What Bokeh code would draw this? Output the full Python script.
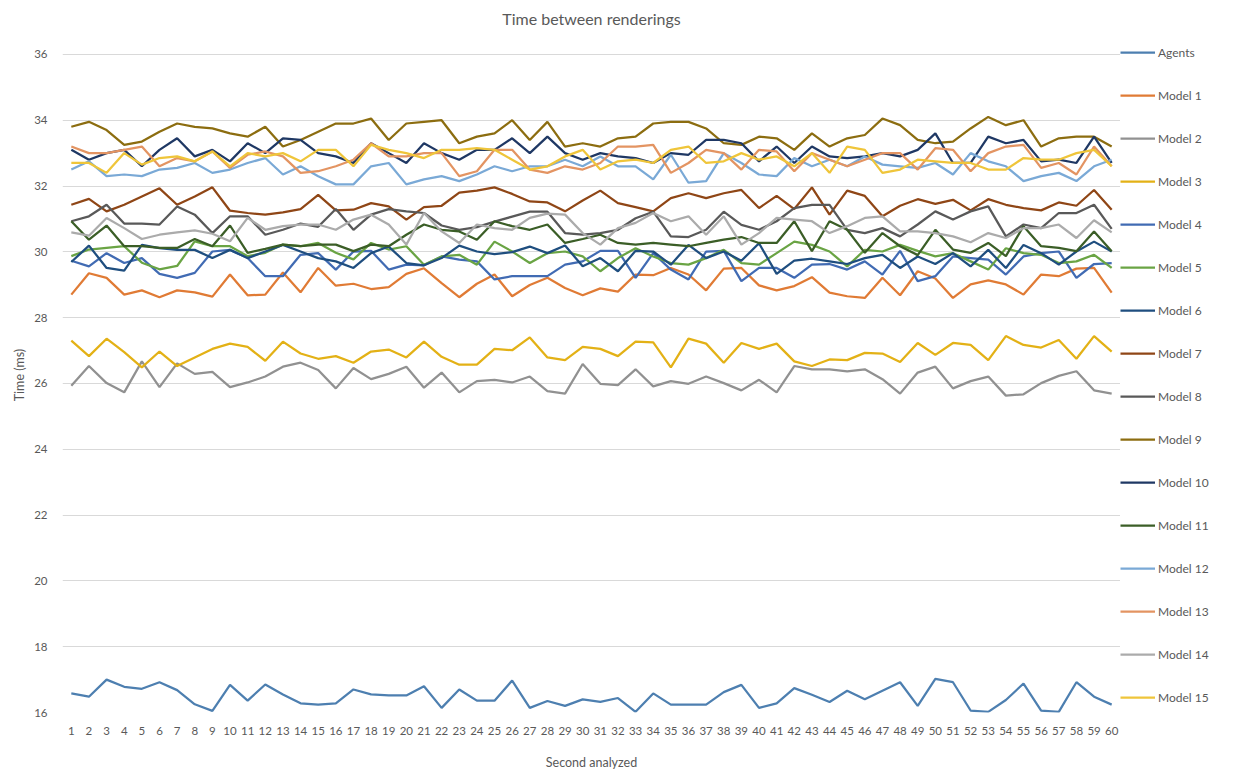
from bokeh.plotting import figure
from bokeh.layouts import row
from bokeh.models import Range1d, FixedTicker, Legend, LegendItem, ColumnDataSource
from bokeh.embed import file_html
from bokeh.resources import INLINE

seconds = list(range(1, 61))
y_ticks = [16, 18, 20, 22, 24, 26, 28, 30, 32, 34, 36]

agents = [16.58,16.48,17.0,16.78,16.72,16.92,16.68,16.25,16.05,16.84,16.36,16.85,16.55,16.28,16.24,16.28,16.7,16.55,16.52,16.52,16.8,16.14,16.7,16.36,16.36,16.97,16.14,16.35,16.2,16.4,
          16.32,16.44,16.02,16.58,16.24,16.24,16.24,16.62,16.84,16.14,16.28,16.74,16.54,16.32,16.66,16.4,16.66,16.92,16.2,17.02,16.92,16.06,16.02,16.38,16.88,16.06,16.02,16.92,16.48,16.24]
model1 = [28.70,29.35,29.21,28.70,28.83,28.62,28.83,28.77,28.64,29.31,28.68,28.70,29.37,28.77,29.51,28.97,29.03,28.87,28.93,29.33,
          29.50,29.05,28.62,29.03,29.31,28.65,28.99,29.21,28.90,28.68,28.89,28.79,29.31,29.29,29.51,29.31,28.83,29.49,29.51,28.98,
          28.83,28.96,29.23,28.76,28.65,28.60,29.21,28.68,29.41,29.19,28.60,29.01,29.13,29.01,28.70,29.31,29.26,29.49,29.51,28.76]
model2 = [25.93,26.53,26.01,25.73,26.67,25.89,26.61,26.29,26.35,25.89,26.03,26.21,26.51,26.63,26.41,25.85,26.47,26.13,26.29,26.51,25.87,26.33,25.73,26.07,26.11,26.03,26.21,25.77,25.69,26.59,
          25.99,25.95,26.43,25.91,26.07,25.99,26.21,26.01,25.79,26.11,25.73,26.53,26.43,26.43,26.37,26.43,26.13,25.69,26.33,26.51,25.85,26.07,26.21,25.63,25.67,26.01,26.23,26.37,25.79,25.69]
model3 = [27.30,26.83,27.36,26.95,26.49,26.97,26.53,26.79,27.05,27.21,27.11,26.69,27.27,26.91,26.75,26.83,26.63,26.97,27.03,26.79,27.27,26.81,26.57,26.57,27.05,27.01,27.40,26.79,26.71,27.11,
          27.05,26.83,27.27,27.25,26.49,27.36,27.21,26.63,27.23,27.05,27.21,26.67,26.53,26.73,26.71,26.93,26.91,26.65,27.23,26.87,27.23,27.17,26.71,27.44,27.17,27.09,27.32,26.75,27.44,26.97]
model4 = [29.73,29.56,29.96,29.66,29.81,29.33,29.21,29.36,30.01,30.06,29.81,29.26,29.26,29.91,29.96,29.46,30.01,30.03,29.46,29.61,
          29.59,29.86,29.76,29.71,29.16,29.26,29.26,29.26,29.61,29.71,30.03,30.03,29.21,29.96,29.46,29.16,30.01,30.03,29.11,29.51,
          29.51,29.21,29.61,29.63,29.46,29.71,29.31,30.03,29.11,29.26,29.86,29.81,29.76,29.31,29.86,29.96,30.01,29.21,29.63,29.66]
model5 = [29.87,30.07,30.12,30.17,29.67,29.47,29.57,30.32,30.17,30.17,29.87,29.97,30.22,30.17,30.27,29.97,29.77,30.27,30.07,30.17,
          29.61,29.86,29.91,29.61,30.31,30.01,29.66,29.96,30.01,29.86,29.41,29.81,30.11,29.86,29.66,29.61,29.81,30.06,29.66,29.61,
          29.96,30.31,30.21,30.01,29.56,30.06,30.01,30.21,30.03,29.86,29.96,29.71,29.46,30.11,29.96,29.91,29.66,29.71,29.91,29.51]
model6 = [29.69,30.19,29.51,29.43,30.21,30.11,30.06,30.06,29.81,30.06,29.81,30.01,30.21,30.01,29.81,29.71,29.51,29.96,30.16,29.66,
          29.59,29.81,30.19,30.01,29.93,29.99,30.16,29.96,30.19,29.56,29.81,29.41,30.03,30.01,29.61,30.21,29.81,30.01,29.73,30.26,
          29.33,29.73,29.79,29.71,29.63,29.81,29.91,29.51,29.86,29.63,29.96,29.56,30.06,29.51,30.21,29.96,29.61,30.01,30.31,30.01]
model7 = [31.43,31.61,31.23,31.43,31.68,31.93,31.43,31.68,31.96,31.25,31.18,31.13,31.20,31.30,31.73,31.26,31.28,31.48,31.38,30.98,
          31.36,31.40,31.80,31.86,31.96,31.76,31.53,31.50,31.23,31.56,31.86,31.48,31.36,31.23,31.63,31.78,31.63,31.78,31.88,31.33,
          31.70,31.30,31.96,31.13,31.86,31.70,31.08,31.40,31.60,31.46,31.58,31.26,31.60,31.43,31.33,31.26,31.50,31.40,31.88,31.28]
model8 = [30.93,31.08,31.43,30.86,30.86,30.83,31.38,31.13,30.57,31.08,31.08,30.52,30.67,30.86,30.76,31.30,30.67,31.13,31.30,31.23,
          31.18,30.80,30.67,30.75,30.92,31.07,31.22,31.22,30.57,30.52,30.57,30.67,31.02,31.22,30.47,30.45,30.67,31.22,30.82,30.67,
          30.93,31.33,31.43,31.43,30.67,30.57,30.72,30.47,30.83,31.23,30.98,31.23,31.38,30.47,30.83,30.72,31.18,31.18,31.43,30.70]
model9 = [33.8,33.95,33.7,33.25,33.35,33.65,33.9,33.8,33.75,33.6,33.5,33.8,33.2,33.4,33.65,33.9,33.9,34.05,33.4,33.9,
          33.95,34.0,33.3,33.5,33.6,34.0,33.4,33.95,33.2,33.3,33.2,33.45,33.5,33.9,33.95,33.95,33.75,33.3,33.25,33.5,
          33.45,33.1,33.6,33.2,33.45,33.55,34.05,33.85,33.4,33.3,33.35,33.75,34.1,33.85,34.0,33.2,33.45,33.5,33.5,33.2]
model10 = [33.1,32.8,33.0,33.1,32.6,33.1,33.45,32.9,33.1,32.75,33.3,33.0,33.45,33.4,33.0,32.9,32.7,33.3,33.0,32.7,
           33.3,33.0,32.8,33.1,33.1,33.45,33.0,33.5,33.0,32.8,33.0,32.9,32.85,32.7,33.0,32.95,33.4,33.4,33.3,32.75,
           33.2,32.7,33.2,32.9,32.85,32.9,33.0,32.9,33.1,33.6,32.7,32.7,33.5,33.3,33.4,32.75,32.8,32.7,33.5,32.7]
model11 = [30.93,30.37,30.80,30.17,30.17,30.12,30.12,30.39,30.17,30.80,29.97,30.09,30.22,30.17,30.22,30.22,30.02,30.22,30.17,30.52,
           30.83,30.67,30.62,30.37,30.93,30.78,30.67,30.83,30.27,30.39,30.52,30.27,30.22,30.27,30.22,30.17,30.27,30.37,30.45,30.27,
           30.27,30.93,30.02,30.93,30.67,29.97,30.57,30.17,29.90,30.67,30.07,29.97,30.27,29.87,30.78,30.17,30.12,30.02,30.62,30.02]
model12 = [32.5,32.75,32.3,32.35,32.3,32.5,32.55,32.7,32.4,32.5,32.7,32.85,32.35,32.6,32.3,32.05,32.05,32.6,32.7,32.05,
           32.2,32.3,32.15,32.35,32.6,32.45,32.6,32.6,32.8,32.6,32.9,32.6,32.6,32.2,32.95,32.1,32.15,33.0,32.7,32.35,
           32.3,32.85,32.6,32.8,32.6,32.9,32.65,32.6,32.55,32.7,32.35,33.0,32.75,32.6,32.15,32.3,32.4,32.15,32.6,32.8]
model13 = [33.2,33.0,33.0,33.1,33.2,32.6,32.85,32.75,33.05,32.55,32.95,33.05,32.9,32.4,32.45,32.6,32.8,33.3,32.9,32.9,
           33.0,33.0,32.3,32.45,33.1,33.1,32.5,32.4,32.6,32.5,32.7,33.2,33.2,33.25,32.4,32.7,33.1,33.0,32.5,33.1,
           33.05,32.45,33.0,32.8,32.6,32.8,33.0,33.0,32.5,33.15,33.1,32.45,33.0,33.2,33.25,32.55,32.7,32.35,33.2,32.6]
model14 = [30.59,30.49,31.03,30.72,30.39,30.52,30.59,30.65,30.55,30.32,31.03,30.67,30.78,30.83,30.83,30.67,30.98,31.13,30.83,30.22,
           31.18,30.62,30.27,30.83,30.72,30.67,31.03,31.16,31.13,30.57,30.22,30.72,30.88,31.18,30.93,31.08,30.52,31.08,30.22,30.57,
           31.03,30.98,30.93,30.57,30.78,31.03,31.08,30.62,30.62,30.57,30.47,30.29,30.57,30.42,30.72,30.72,30.83,30.42,30.96,30.59]
model15 = [32.7,32.7,32.4,33.0,32.65,32.85,32.9,32.75,33.05,32.6,33.0,32.9,33.0,32.75,33.1,33.1,32.6,33.25,33.1,33.0,
           32.85,33.1,33.1,33.15,33.1,32.8,32.5,32.6,32.9,33.1,32.5,32.75,32.8,32.7,33.1,33.2,32.7,32.75,33.0,32.8,
           32.9,32.6,33.0,32.4,33.2,33.1,32.4,32.5,32.8,32.75,32.7,32.7,32.5,32.5,32.85,32.8,32.8,33.0,33.1,32.6]

series_names = ["Agents"] + ["Model %d" % i for i in range(1, 16)]
series_values = [agents, model1, model2, model3, model4, model5, model6, model7,
                 model8, model9, model10, model11, model12, model13, model14, model15]
series_colors = ["#4D7FB0", "#E07B35", "#919191", "#E3B116", "#416BB3", "#6AA444",
                 "#1F4E7F", "#8F4616", "#595959", "#8C6D10", "#1F3864", "#3B5E27",
                 "#7AA9D6", "#E39462", "#ABABAB", "#EFC53A"]

for v in series_values:
    assert len(v) == 60, len(v)

FONT = "Lato"
TEXT = "#595959"
W_MAIN, W_LEG, H = 1120, 119, 772
BL, BT, BB = 62, 36, 57
FH = H - BT - BB
TOP_PAD_PX = 17
top_pad_units = 20.0 * TOP_PAD_PX / (FH - TOP_PAD_PX)

data = {"x": seconds}
for n, v in zip(series_names, series_values):
    data[n] = v
src = ColumnDataSource(data)

p = figure(width=W_MAIN, height=H, output_backend="svg", toolbar_location=None,
           x_range=Range1d(0.5, 60.5),
           y_range=Range1d(16, 36 + top_pad_units),
           min_border_left=BL, min_border_right=0, min_border_top=BT, min_border_bottom=BB,
           title="Time between renderings")

p.title.align = "center"
p.title.vertical_align = "top"
p.title.text_font = FONT
p.title.text_font_size = "16px"
p.title.text_line_height = 1.0
p.title.text_font_style = "normal"
p.title.text_color = TEXT
p.title.standoff = 16

p.outline_line_color = None
p.background_fill_color = "white"
p.border_fill_color = "white"

p.xgrid.grid_line_color = None
p.ygrid.grid_line_color = "#D9D9D9"
p.ygrid.grid_line_width = 1

p.yaxis.ticker = FixedTicker(ticks=y_ticks)
p.xaxis.ticker = FixedTicker(ticks=seconds)
for ax in (p.xaxis, p.yaxis):
    ax.axis_line_color = None
    ax.major_tick_line_color = None
    ax.minor_tick_line_color = None
    ax.major_label_text_font = FONT
    ax.major_label_text_font_size = "11.5px"
    ax.major_label_text_color = TEXT
    ax.axis_label_text_font = FONT
    ax.axis_label_text_font_size = "12.5px"
    ax.axis_label_text_font_style = "normal"
    ax.axis_label_text_color = TEXT

p.yaxis.axis_label = "Time (ms)"
p.yaxis.major_label_standoff = 9
p.yaxis.axis_label_standoff = 4
p.xaxis.axis_label = "Second analyzed"
p.xaxis.major_label_standoff = 8
p.xaxis.axis_label_standoff = 17

for n, c in zip(series_names, series_colors):
    p.line(x="x", y=n, source=src, line_color=c, line_width=2.25)

# Legend panel: a narrow companion figure whose lines fall outside its view,
# so only the legend samples are visible.
pl = figure(width=W_LEG, height=H, output_backend="svg", toolbar_location=None,
            x_range=Range1d(0.5, 60.5), y_range=Range1d(0, 1),
            x_axis_type=None, y_axis_type=None,
            min_border_left=0, min_border_right=0, min_border_top=0, min_border_bottom=0)
pl.outline_line_color = None
pl.xgrid.grid_line_color = None
pl.ygrid.grid_line_color = None
pl.background_fill_color = "white"
pl.border_fill_color = "white"

items = []
for n, c in zip(series_names, series_colors):
    r = pl.line(x="x", y=n, source=src, line_color=c, line_width=2.25)
    items.append(LegendItem(label=n, renderers=[r]))

N_ITEMS = len(items)
ITEM_H, SPACING, PAD = 20, 23, 7
LEG_H = N_ITEMS * ITEM_H + (N_ITEMS - 1) * SPACING + 2 * PAD
LEG_FRAME_BOTTOM = 720  # measured bottom of the legend figure's drawing area
legend = Legend(items=items, location=(0, LEG_FRAME_BOTTOM - BT - LEG_H), orientation="vertical",
                margin=0, padding=PAD, spacing=SPACING, glyph_width=35, glyph_height=ITEM_H,
                label_height=ITEM_H, label_standoff=3,
                label_text_font=FONT, label_text_font_size="12px",
                label_text_color=TEXT, border_line_color=None,
                background_fill_alpha=0)
pl.add_layout(legend, "center")

layout = row(p, pl, spacing=0)
open("out.html", "w").write(file_html(layout, INLINE))
